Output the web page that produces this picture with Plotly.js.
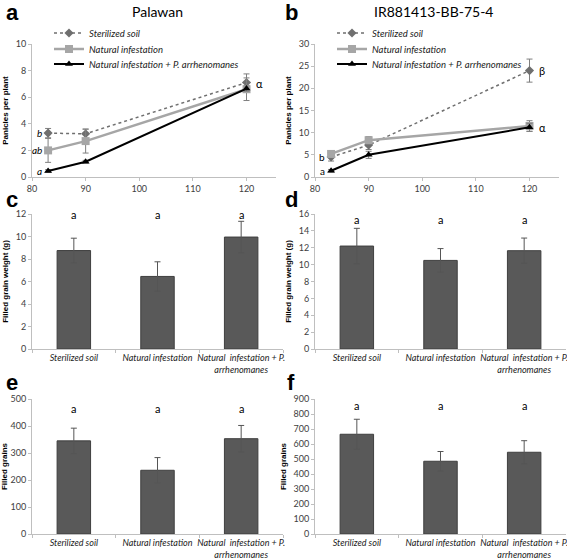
<!DOCTYPE html>
<html>
<head>
<meta charset="utf-8">
<script src="https://cdn.plot.ly/plotly-3.0.1.min.js"></script>
<style>html,body{margin:0;padding:0;background:#fff}#chart{width:567px;height:559px}</style>
</head>
<body>
<div id="chart"></div>
<script>
// ---- data ----
const days = [83, 90, 120];
const seriesNames = ["Sterilized soil", "Natural infestation", "Natural infestation + P. arrhenomanes"];

// Panel a: Palawan, panicles per plant
const palSterile = [3.3, 3.25, 7.1];
const palSterileErr = [0.35, 0.35, 0.65];
const palNatural = [2.0, 2.7, 6.6];
const palNaturalErr = [0.9, 0.9, 0.85];
const palPa = [0.45, 1.15, 6.65];
const palPaErr = [0.1, 0.1, 0.2];

// Panel b: IR881413-BB-75-4, panicles per plant
const irSterile = [4.5, 7.2, 24.0];
const irSterileErr = [0.9, 1.0, 2.6];
const irNatural = [5.2, 8.3, 11.5];
const irNaturalErr = [0.6, 0.8, 1.2];
const irPa = [1.4, 5.0, 11.2];
const irPaErr = [0.3, 0.8, 0.9];

// Bar panels
const categories = ["Sterilized soil", "Natural infestation", "Natural  infestation + P.<br>arrhenomanes"];
const palWeight = [8.75, 6.45, 9.95];
const palWeightErr = [1.1, 1.3, 1.4];
const irWeight = [12.2, 10.5, 11.65];
const irWeightErr = [2.1, 1.4, 1.5];
const palGrains = [345, 236, 353];
const palGrainsErr = [47, 47, 49];
const irGrains = [665, 485, 545];
const irGrainsErr = [100, 65, 77];

const barLetters = ["a", "a", "a"];

// ---- styles ----
const W = 567, H = 559;
const px = v => v / W;
const py = v => 1 - v / H;
const FONT = "Lato, 'Open Sans', sans-serif";
const axisCol = "#bfbfbf";
const errCol = "#7f7f7f";

function lineTrace(x, y, err, idx, xa, ya, legend) {
  const styles = [
    {color: "#6f6f6f", dash: "dot", width: 1.5, symbol: "diamond", size: 7},
    {color: "#a6a6a6", dash: "solid", width: 2.5, symbol: "square", size: 8},
    {color: "#000000", dash: "solid", width: 2, symbol: "triangle-up", size: 7}
  ][idx];
  return {
    type: "scatter", mode: "lines+markers", x: x, y: y, name: seriesNames[idx],
    xaxis: xa, yaxis: ya, legend: legend,
    line: {color: styles.color, dash: styles.dash, width: styles.width},
    marker: {color: styles.color, symbol: styles.symbol, size: styles.size},
    error_y: {type: "data", array: err, visible: true, color: errCol, thickness: 1, width: 3},
    showlegend: true
  };
}

function barTrace(y, err, xa, ya) {
  return {
    type: "bar", x: categories, y: y, xaxis: xa, yaxis: ya, width: 0.4,
    marker: {color: "#595959", line: {color: "#3f3f3f", width: 1}},
    error_y: {type: "data", array: err, visible: true, color: "#555555", thickness: 1, width: 3},
    showlegend: false
  };
}

const data = [
  lineTrace(days, palSterile, palSterileErr, 0, "x", "y", "legend"),
  lineTrace(days, palNatural, palNaturalErr, 1, "x", "y", "legend2"),
  lineTrace(days, palPa, palPaErr, 2, "x", "y", "legend3"),
  lineTrace(days, irSterile, irSterileErr, 0, "x2", "y2", "legend4"),
  lineTrace(days, irNatural, irNaturalErr, 1, "x2", "y2", "legend5"),
  lineTrace(days, irPa, irPaErr, 2, "x2", "y2", "legend6"),
  barTrace(palWeight, palWeightErr, "x3", "y3"),
  barTrace(irWeight, irWeightErr, "x4", "y4"),
  barTrace(palGrains, palGrainsErr, "x5", "y5"),
  barTrace(irGrains, irGrainsErr, "x6", "y6")
];

const tickFont = {family: FONT, size: 9, color: "#404040"};
const titleFont = {family: "Liberation Sans, Arial, sans-serif", size: 8, color: "#000", weight: "bold"};

function xLine(domain, anchor) {
  return {domain: domain, anchor: anchor, range: [80, 125.5], tickvals: [80, 90, 100, 110, 120], showline: true, linecolor: axisCol,
    ticks: "outside", ticklen: 3, tickcolor: axisCol, showgrid: false, zeroline: false, tickfont: tickFont};
}
function yAx(domain, range, dtick, title, anchor) {
  return {domain: domain, range: range, dtick: dtick, showline: true, linecolor: axisCol, ticks: "outside", ticklen: 3,
    tickcolor: axisCol, showgrid: false, zeroline: false, tickfont: tickFont, anchor: anchor,
    title: {text: title, font: titleFont, standoff: 5}};
}
function xBar(domain, anchor) {
  return {domain: domain, type: "category", showline: true, linecolor: axisCol, ticks: "outside", ticklen: 3,
    tickcolor: axisCol, tickson: "boundaries", showgrid: false, zeroline: false, anchor: anchor, tickangle: 0,
    tickfont: {family: FONT, size: 9, color: "#222", style: "italic"}, range: [-0.5, 2.5]};
}

const xdL = [px(32), px(276)], xdR = [px(315), px(559)];
const xbL = [px(32), px(283)], xbR = [px(315), px(566)];
const ydTop = [py(177), py(44)];
const ydMid = [py(349), py(214)];
const ydBot = [py(534), py(399)];

const annotations = [];
function ann(text, x, y, xref, yref, opts) {
  annotations.push(Object.assign({text: text, x: x, y: y, xref: xref, yref: yref, showarrow: false}, opts || {}));
}
const letterFont = {family: "Liberation Sans, Arial, sans-serif", size: 22, color: "#000", weight: "bold"};
const C = {xanchor: "center", yanchor: "middle"};
ann("a", px(12), py(12), "paper", "paper", Object.assign({font: letterFont}, C));
ann("b", px(291), py(12), "paper", "paper", Object.assign({font: letterFont}, C));
ann("c", px(12), py(199), "paper", "paper", Object.assign({font: letterFont}, C));
ann("d", px(291), py(199), "paper", "paper", Object.assign({font: letterFont}, C));
ann("e", px(12), py(382), "paper", "paper", Object.assign({font: letterFont}, C));
ann("f", px(291), py(382), "paper", "paper", Object.assign({font: letterFont}, C));
const headFont = {family: FONT, size: 14, color: "#000"};
ann("Palawan", px(157), py(11), "paper", "paper", Object.assign({font: headFont}, C));
ann("IR881413-BB-75-4", px(433), py(11), "paper", "paper", Object.assign({font: headFont}, C));

const sigFont = {family: FONT, size: 10, color: "#000", style: "italic"};
ann("b", days[0], palSterile[0], "x", "y", {xanchor: "right", xshift: -4, font: sigFont});
ann("ab", days[0], palNatural[0], "x", "y", {xanchor: "right", xshift: -4, font: sigFont});
ann("a", days[0], palPa[0], "x", "y", {xanchor: "right", xshift: -4, font: sigFont});
ann("α", days[2], palSterile[2] - 0.1, "x", "y", {xanchor: "left", xshift: 7, font: {family: FONT, size: 11, color: "#000"}});
const sigFontB = {family: FONT, size: 10, color: "#000"};
ann("b", days[0], irSterile[0], "x2", "y2", {xanchor: "right", xshift: -4, font: sigFontB});
ann("a", days[0], irPa[0], "x2", "y2", {xanchor: "right", xshift: -4, font: sigFontB});
ann("β", days[2], irSterile[2], "x2", "y2", {xanchor: "left", xshift: 7, font: {family: FONT, size: 11, color: "#000"}});
ann("α", days[2], irPa[2], "x2", "y2", {xanchor: "left", xshift: 7, font: {family: FONT, size: 11, color: "#000"}});

const barLetterFont = {family: FONT, size: 11, color: "#000"};
const barLetterY = [12, 15.3, 465, 860];
["x3", "x4", "x5", "x6"].forEach((xa, i) => {
  categories.forEach((c, j) => ann(barLetters[j], c, barLetterY[i], xa, "y" + (i + 3), {font: barLetterFont}));
});

const legendBase = {font: {family: FONT, size: 9.5, color: "#222", style: "italic"}, bgcolor: "rgba(0,0,0,0)",
  itemwidth: 30, xanchor: "left", yanchor: "middle", tracegroupgap: 0, traceorder: "normal"};
const legRows = [33, 49, 64];
const legX = [49, 332];

const layout = {
  width: W, height: H, margin: {l: 0, r: 0, t: 0, b: 0}, paper_bgcolor: "#fff", plot_bgcolor: "#fff",
  font: {family: FONT},
  xaxis: xLine(xdL, "y"), yaxis: yAx(ydTop, [0, 10], 2, "Panicles per plant", "x"),
  xaxis2: xLine(xdR, "y2"), yaxis2: yAx(ydTop, [0, 30], 5, "Panicles per plant", "x2"),
  xaxis3: xBar(xbL, "y3"), yaxis3: yAx(ydMid, [0, 12], 2, "Filled grain weight (g)", "x3"),
  xaxis4: xBar(xbR, "y4"), yaxis4: yAx(ydMid, [0, 16], 2, "Filled grain weight (g)", "x4"),
  xaxis5: xBar(xbL, "y5"), yaxis5: yAx(ydBot, [0, 500], 100, "Filled grains", "x5"),
  xaxis6: xBar(xbR, "y6"), yaxis6: yAx(ydBot, [0, 900], 100, "Filled grains", "x6"),
  annotations: annotations
};
["legend", "legend2", "legend3", "legend4", "legend5", "legend6"].forEach((name, i) => {
  layout[name] = Object.assign({x: px(legX[Math.floor(i / 3)]), y: py(legRows[i % 3])}, legendBase);
});

Plotly.newPlot("chart", data, layout, {staticPlot: true, displayModeBar: false});
</script>
</body>
</html>
